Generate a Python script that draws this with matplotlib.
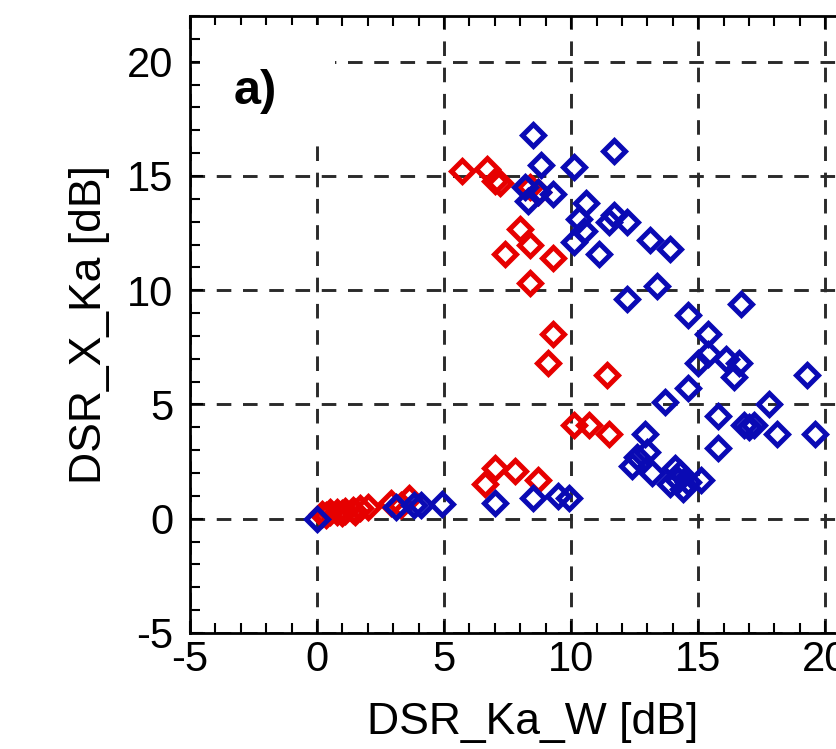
import matplotlib
matplotlib.use("Agg")
import matplotlib.pyplot as plt
from matplotlib.patches import Rectangle
from matplotlib.ticker import MultipleLocator

plt.rcParams['font.family'] = ['Liberation Sans', 'DejaVu Sans']
plt.rcParams['axes.unicode_minus'] = False

# red series (DSR_Ka_W, DSR_X_Ka)
red_x = [0.2, 0.35, 0.5, 0.8, 1.0, 1.1, 1.4, 1.5, 1.7, 2.0,
         2.9, 3.3, 3.6,
         6.6, 7.0, 7.8, 8.7,
         10.1, 10.7, 11.5,
         11.4, 9.1, 9.3,
         8.4, 7.4, 9.3, 8.4, 8.0,
         5.7, 6.7, 7.0, 7.2, 8.4, 8.7]
red_y = [0.2, 0.15, 0.3, 0.3, 0.25, 0.35, 0.4, 0.3, 0.45, 0.5,
         0.7, 0.6, 0.9,
         1.5, 2.2, 2.1, 1.7,
         4.1, 4.1, 3.7,
         6.3, 6.8, 8.1,
         10.3, 11.6, 11.4, 12.0, 12.7,
         15.2, 15.3, 14.8, 14.7, 14.5, 14.3]

# blue series
blue_x = [0.0,
          3.1, 3.8, 4.1, 4.9,
          7.0, 8.5, 9.5, 9.9,
          8.5, 8.8, 8.2, 8.7, 8.3, 9.3,
          10.1, 11.7,
          10.6, 10.3, 10.5, 10.1,
          11.5, 11.7, 12.2, 11.1, 13.1, 13.9,
          12.2, 13.4, 14.6, 16.7, 15.4,
          15.4, 15.0, 16.1, 16.6, 16.4, 19.3,
          14.6, 13.7, 17.8, 15.8, 16.8, 17.2, 17.0,
          18.1, 19.6, 15.8,
          12.9, 13.0, 12.6, 12.4, 13.2,
          14.1, 14.3, 13.9, 14.6, 14.4, 15.1, 14.2]
blue_y = [0.0,
          0.5, 0.6, 0.6, 0.65,
          0.7, 0.9, 1.0, 0.9,
          16.8, 15.5, 14.5, 14.3, 13.9, 14.2,
          15.4, 16.1,
          13.8, 13.1, 12.6, 12.1,
          13.0, 13.3, 13.0, 11.6, 12.2, 11.8,
          9.6, 10.2, 8.9, 9.4, 8.1,
          7.2, 6.8, 7.0, 6.8, 6.2, 6.3,
          5.7, 5.1, 5.0, 4.5, 4.1, 4.1, 4.0,
          3.7, 3.7, 3.1,
          3.7, 2.9, 2.7, 2.3, 2.0,
          2.2, 2.0, 1.5, 1.6, 1.3, 1.7, 1.7]

fig = plt.figure(figsize=(8.37, 7.49), dpi=100)
# axes runs past the right edge of the picture, as in the original crop
ax = fig.add_axes([190 / 837, 116 / 749, 686 / 837, 617 / 749])

ax.plot(red_x, red_y, 'D', ms=11.5, mfc='none', mec='#e60000', mew=3.6, zorder=3)
ax.plot(blue_x, blue_y, 'D', ms=11.5, mfc='none', mec='#0a0ab4', mew=3.6, zorder=4)

ax.set_xlim(-5, 22)
ax.set_ylim(-5, 22)
ax.xaxis.set_major_locator(MultipleLocator(5))
ax.yaxis.set_major_locator(MultipleLocator(5))
ax.xaxis.set_minor_locator(MultipleLocator(1))
ax.yaxis.set_minor_locator(MultipleLocator(1))
ax.tick_params(which='both', direction='in', top=True, right=True,
               width=1.5, color='black')
ax.tick_params(which='major', length=9, labelsize=30)
ax.tick_params(which='minor', length=7)
ax.tick_params(axis='x', pad=5)
ax.tick_params(axis='y', pad=12)

ax.grid(True, which='major', color='#2a2a2a', linestyle=(0, (5, 4)), lw=2.1)
for s in ax.spines.values():
    s.set_linewidth(2)

# white box behind the panel label
ax.add_patch(Rectangle((0.014, 0.8), 0.197, 0.186, transform=ax.transAxes,
                       facecolor='white', edgecolor='none', zorder=2))
ax.text(0.095, 0.877, 'a)', transform=ax.transAxes, fontsize=35,
        fontweight='bold', ha='center', va='center', zorder=5)

ax.set_xlabel('DSR_Ka_W [dB]', fontsize=32, labelpad=16)
ax.set_ylabel('DSR_X_Ka [dB]', fontsize=32, labelpad=12)

fig.savefig('out.png', dpi=100)
